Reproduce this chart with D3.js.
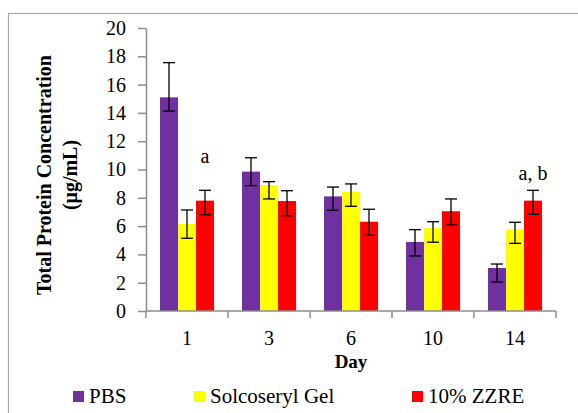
<!DOCTYPE html>
<html>
<head>
<meta charset="utf-8">
<script src="https://cdn.jsdelivr.net/npm/d3@7"></script>
<style>
  body { margin: 0; background: #fff; }
  svg text { font-family: "Liberation Serif", "Times New Roman", Times, "DejaVu Serif", serif; }
</style>
</head>
<body>
<div id="chart"></div>
<script>
// Chart data
const days = ["1", "3", "6", "10", "14"];
const seriesNames = ["PBS", "Solcoseryl Gel", "10% ZZRE"];
const seriesColors = ["#7030A0", "#FFFF00", "#FF0000"];
const pbsMean = [15.1, 9.85, 8.1, 4.88, 3.04];
const pbsHigh = [17.55, 10.83, 8.76, 5.75, 3.32];
const pbsLow = [14.13, 8.86, 7.12, 3.89, 2.05];
const gelMean = [6.15, 8.9, 8.41, 5.85, 5.77];
const gelHigh = [7.14, 9.14, 8.98, 6.31, 6.27];
const gelLow = [5.14, 7.92, 7.4, 4.86, 4.78];
const zzreMean = [7.8, 7.77, 6.31, 7.05, 7.8];
const zzreHigh = [8.53, 8.5, 7.19, 7.92, 8.53];
const zzreLow = [6.8, 6.73, 5.35, 6.08, 6.83];
const yTicks = [0, 2, 4, 6, 8, 10, 12, 14, 16, 18, 20];
// significance letters, placed at a y value (baseline)
const annotations = [{ day: "1", series: 2, y: 10.45, text: "a" }, { day: "14", series: 2, y: 9.25, text: "a, b" }];

const means = [pbsMean, gelMean, zzreMean];
const highs = [pbsHigh, gelHigh, zzreHigh];
const lows = [pbsLow, gelLow, zzreLow];

const serif = "'Liberation Serif', 'Times New Roman', Times, 'DejaVu Serif', serif";
const w = 578, h = 413;
const svg = d3.select("#chart").append("svg")
  .attr("width", w)
  .attr("height", h)
  .attr("font-family", serif);

// outer frame
svg.append("rect")
  .attr("x", 8.5).attr("y", 13.5)
  .attr("width", w + 10).attr("height", h + 10)
  .attr("fill", "none")
  .attr("stroke", "#a6a6a6")
  .attr("stroke-width", 1.2);

const plot = { left: 146, right: 556, top: 28, bottom: 311 };

const yScale = d3.scaleLinear().domain([0, 20]).range([plot.bottom, plot.top]);
const x0 = d3.scaleBand().domain(days).range([plot.left, plot.right]).padding(0);
const x1 = d3.scaleBand().domain(d3.range(seriesNames.length))
  .range([14, x0.bandwidth() - 14]).padding(0);

// bars
const rows = [];
days.forEach((d, i) => {
  seriesNames.forEach((s, j) => {
    rows.push({ day: d, s: j, v: means[j][i], hi: highs[j][i], lo: lows[j][i] });
  });
});

svg.append("g").selectAll("rect")
  .data(rows)
  .enter()
  .append("rect")
  .attr("x", d => x0(d.day) + x1(d.s))
  .attr("y", d => yScale(d.v))
  .attr("width", x1.bandwidth())
  .attr("height", d => yScale(0) - yScale(d.v))
  .attr("fill", d => seriesColors[d.s]);

// error bars
const eb = svg.append("g").attr("stroke", "#000").attr("stroke-width", 1.3);
rows.forEach(d => {
  const cx = x0(d.day) + x1(d.s) + x1.bandwidth() / 2;
  eb.append("line").attr("x1", cx).attr("x2", cx).attr("y1", yScale(d.hi)).attr("y2", yScale(d.lo));
  eb.append("line").attr("x1", cx - 6).attr("x2", cx + 6).attr("y1", yScale(d.hi)).attr("y2", yScale(d.hi));
  eb.append("line").attr("x1", cx - 6).attr("x2", cx + 6).attr("y1", yScale(d.lo)).attr("y2", yScale(d.lo));
});

// y axis
const yAxis = d3.axisLeft(yScale).tickValues(yTicks).tickSize(8).tickPadding(12).tickSizeOuter(0);
const gy = svg.append("g")
  .attr("transform", "translate(" + plot.left + ",0)")
  .call(yAxis)
  .attr("font-family", serif)
  .attr("font-size", 20);
gy.selectAll("path, line").attr("stroke", "#8c8c8c").attr("stroke-width", 1.5);
gy.selectAll("text").attr("fill", "#000");

// x axis: line + ticks at category boundaries
const gx = svg.append("g").attr("transform", "translate(0," + plot.bottom + ")");
gx.append("line")
  .attr("x1", plot.left).attr("x2", plot.right)
  .attr("stroke", "#8c8c8c").attr("stroke-width", 1.5);
const bounds = days.map(d => x0(d)).concat([x0.range()[1]]);
gx.selectAll(".bt").data(bounds).enter().append("line")
  .attr("x1", d => d).attr("x2", d => d)
  .attr("y1", 0).attr("y2", 7)
  .attr("stroke", "#8c8c8c").attr("stroke-width", 1.5);
gx.selectAll(".lbl").data(days).enter().append("text")
  .attr("x", d => x0(d) + x0.bandwidth() / 2)
  .attr("y", 34)
  .attr("text-anchor", "middle")
  .attr("font-size", 20)
  .text(d => d);

// axis titles
svg.append("text")
  .attr("x", (plot.left + plot.right) / 2)
  .attr("y", 368)
  .attr("text-anchor", "middle")
  .attr("font-size", 19)
  .attr("font-weight", "bold")
  .text("Day");

const yt = svg.append("text")
  .attr("transform", "translate(51,175) rotate(-90)")
  .attr("text-anchor", "middle")
  .attr("font-size", 20)
  .attr("font-weight", "bold");
yt.append("tspan").attr("x", 0).attr("y", 0).text("Total Protein Concentration");
yt.append("tspan").attr("x", 0).attr("y", 26).text("(μg/mL)");

// significance labels
svg.selectAll(".ann").data(annotations).enter().append("text")
  .attr("x", d => x0(d.day) + x1(d.series) + x1.bandwidth() / 2)
  .attr("y", d => yScale(d.y))
  .attr("text-anchor", "middle")
  .attr("font-size", 20)
  .text(d => d.text);

// legend
const legendX = [73, 194, 412];
const lg = svg.append("g").selectAll("g")
  .data(seriesNames)
  .enter()
  .append("g")
  .attr("transform", (d, i) => "translate(" + legendX[i] + ",391)");
lg.append("rect").attr("width", 11).attr("height", 11).attr("fill", (d, i) => seriesColors[i]);
lg.append("text").attr("x", 16).attr("y", 12).attr("font-size", 21).text(d => d);
</script>
</body>
</html>
